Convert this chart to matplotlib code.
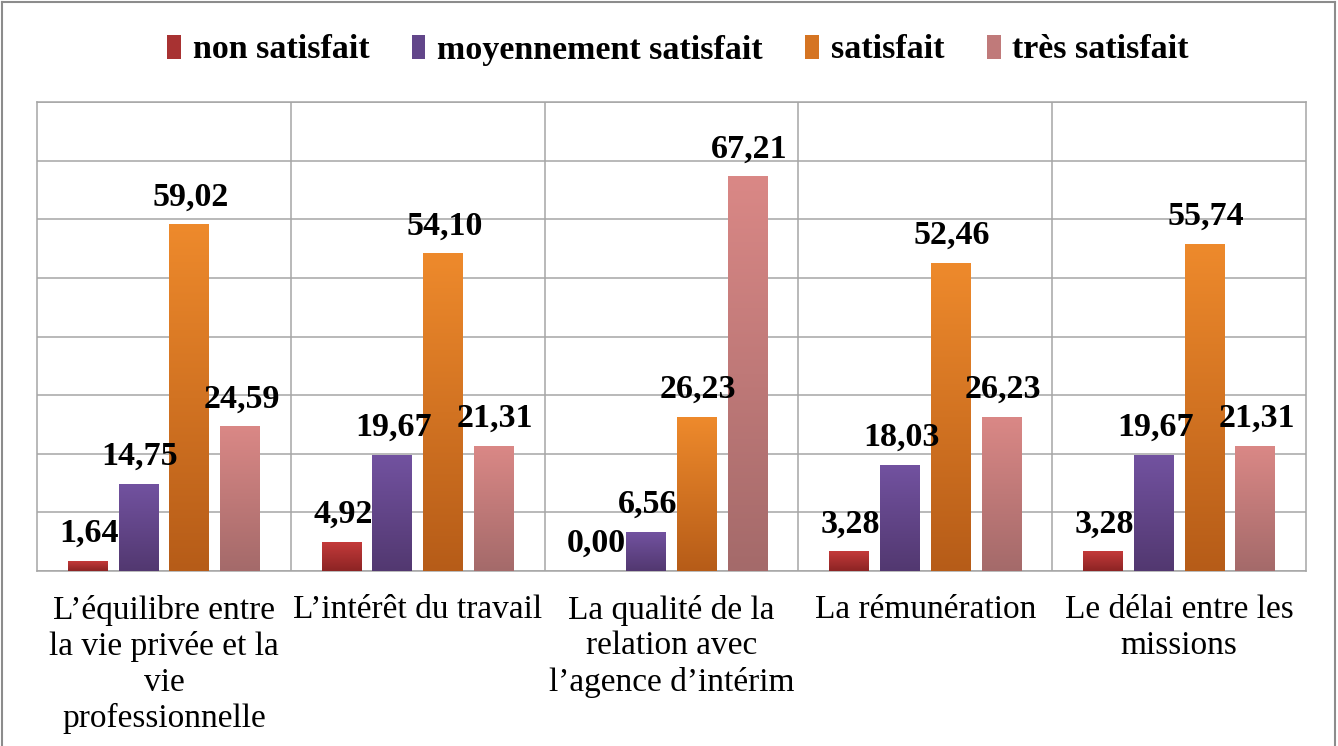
import numpy as np
import matplotlib
matplotlib.use("Agg")
import matplotlib.pyplot as plt
from matplotlib.colors import LinearSegmentedColormap
from matplotlib.patches import Patch
from matplotlib.lines import Line2D

categories = [
    "L’équilibre entre\nla vie privée et la\nvie\nprofessionnelle",
    "L’intérêt du travail",
    "La qualité de la\nrelation avec\nl’agence d’intérim",
    "La rémunération",
    "Le délai entre les\nmissions",
]
series_names = ["non satisfait", "moyennement satisfait", "satisfait", "très satisfait"]
non_satisfait = [1.64, 4.92, 0.00, 3.28, 3.28]
moyennement = [14.75, 19.67, 6.56, 18.03, 19.67]
satisfait = [59.02, 54.10, 26.23, 52.46, 55.74]
tres_satisfait = [24.59, 21.31, 67.21, 26.23, 21.31]
series_values = [non_satisfait, moyennement, satisfait, tres_satisfait]

top_colors = ["#c43a3a", "#7252a0", "#ee8a2c", "#da8886"]
bot_colors = ["#8c2424", "#523870", "#b65c18", "#a46a6a"]
mid_colors = ["#a83232", "#62468a", "#d57422", "#c07a7a"]

W, H = 1338, 746
fig = plt.figure(figsize=(W / 100, H / 100), dpi=100)
ax = fig.add_axes([37 / W, 1 - 571 / H, (1306 - 37) / W, (571 - 102) / H])

x = np.arange(len(categories))
width = 0.157
offsets = [-0.3, -0.1, 0.1, 0.3]
serif = "Liberation Serif"

for i, vals in enumerate(series_values):
    bars = ax.bar(x + offsets[i], vals, width, color="none", edgecolor="none", zorder=3)
    cmap = LinearSegmentedColormap.from_list("g%d" % i, [bot_colors[i], top_colors[i]])
    for b, v in zip(bars, vals):
        bx, by = b.get_x(), b.get_y()
        bw, bh = b.get_width(), b.get_height()
        if bh > 0:
            grad = np.linspace(0, 1, 256).reshape(-1, 1)
            ax.imshow(grad, cmap=cmap, origin="lower", aspect="auto",
                      extent=[bx, bx + bw, by, by + bh], zorder=3)
        ax.annotate(f"{v:.2f}".replace(".", ","), (bx + bw / 2, by + bh),
                    xytext=(1, 14), textcoords="offset points",
                    ha="center", va="baseline", fontsize=24.5, fontweight="bold",
                    family=serif, color="black", zorder=5)

ax.set_xlim(-0.5, len(categories) - 0.5)
ax.set_ylim(0, 80)
ax.set_yticks(np.arange(0, 81, 10))
ax.set_yticklabels([])
ax.tick_params(axis="y", length=0)
ax.yaxis.grid(True, color="#a6a6a6", linewidth=1.1, zorder=0)
ax.set_axisbelow(True)
for b in np.arange(0.5, len(categories) - 0.5, 1):
    ax.axvline(b, color="#a6a6a6", linewidth=1.1, zorder=1)

ax.set_xticks(x)
ax.set_xticklabels(categories, fontsize=24, family=serif, linespacing=1.22)
ax.tick_params(axis="x", length=0, pad=17)
for s in ax.spines.values():
    s.set_color("#a6a6a6")
    s.set_linewidth(1.1)

handles = [Patch(facecolor=mid_colors[i], edgecolor="none") for i in range(4)]
fig.legend(handles, series_names, loc="center", bbox_to_anchor=(678 / W, 1 - 50 / H),
           ncol=4, frameon=False, prop={"family": serif, "weight": "bold", "size": 24.5},
           handlelength=0.4, handleheight=0.7, handletextpad=0.35, columnspacing=1.25)

# outer frame
fc = "#8c8c8c"
fig.add_artist(Line2D([2 / W, 2 / W], [0, 1 - 2 / H], color=fc, lw=1.5, transform=fig.transFigure))
fig.add_artist(Line2D([1335 / W, 1335 / W], [0, 1 - 2 / H], color=fc, lw=1.5, transform=fig.transFigure))
fig.add_artist(Line2D([2 / W, 1335 / W], [1 - 2 / H, 1 - 2 / H], color=fc, lw=1.5, transform=fig.transFigure))

fig.savefig("out.png", dpi=100)
